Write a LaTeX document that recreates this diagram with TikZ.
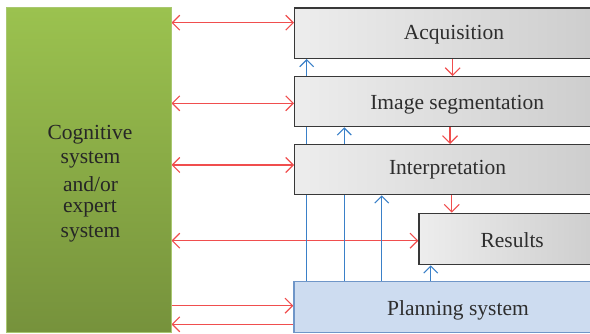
\documentclass[tikz,border=0pt]{standalone}
\usepackage{fontspec}
\setmainfont{Liberation Serif}
\newfontfamily\diagfont{Liberation Serif}
\usetikzlibrary{arrows.meta}
\definecolor{ared}{HTML}{F04E4E}
\definecolor{ablue}{HTML}{3A80C8}
\definecolor{pblue}{HTML}{CDDCF0}
\definecolor{pborder}{HTML}{6F96C8}
\definecolor{gtop}{HTML}{9BC24F}
\definecolor{gbot}{HTML}{76923C}
\definecolor{gborder}{HTML}{A9C870}
\pgfdeclarehorizontalshading{grayshade}{100bp}{color(0bp)=(black!9); color(9bp)=(black!3); color(100bp)=(black!26)}
\pgfdeclarehorizontalshading{planshade}{100bp}{color(0bp)=(white); color(26bp)=(pblue); color(100bp)=(pblue)}
\pgfdeclarelayer{bg}
\pgfsetlayers{bg,main}
\tikzset{
  stagebox/.style={draw=black!78, line width=1.3pt, shading=grayshade, inner sep=0pt,
    anchor=north west},
  planbox/.style={stagebox, draw=pborder, shading=planshade},
  boxtext/.style={anchor=base, inner sep=0pt, font=\diagfont\fontsize{21.5}{24}\selectfont, text=black!82},
  cogtext/.style={boxtext, text=black!85},
  redarr/.style={draw=ared, line width=1.1pt, >={Straight Barb[length=7.5pt,width=15pt]}},
  bluearr/.style={draw=ablue, line width=1.1pt, >={Straight Barb[length=7pt,width=14pt]}},
}
\begin{document}
\begin{tikzpicture}[x=1pt,y=-1pt]
\useasboundingbox (0,0) rectangle (590,334);
\clip (0,0) rectangle (590,334);
% green box
\node[draw=gborder, line width=0.8pt, top color=gtop, bottom color=gbot,
  minimum width=164.7pt, minimum height=324.4pt, inner sep=0pt, anchor=north west] (cog) at (6,7.3) {};
\node[cogtext] (cog1) at (90,139.3) {Cognitive};
\node[cogtext] (cog2) at (90.5,164) {system};
\node[cogtext] (cog3) at (90.5,191.7) {and/or};
\node[cogtext] (cog4) at (90,212.7) {expert};
\node[cogtext] (cog5) at (90.5,237.3) {system};
% stage boxes
\node[stagebox, minimum width=306pt, minimum height=50.2pt] (acq) at (294,7.5) {};
\node[stagebox, minimum width=306pt, minimum height=50pt] (seg) at (294,76) {};
\node[stagebox, minimum width=306pt, minimum height=50pt] (int) at (294,144) {};
\node[stagebox, minimum width=182pt, minimum height=51.3pt] (res) at (418.3,212.7) {};
\node[planbox, minimum width=307pt, minimum height=51pt] (plan) at (293.3,281) {};
\node[boxtext] (acqt) at (454,40) {Acquisition};
\node[boxtext] (segt) at (457.2,110) {Image segmentation};
\node[boxtext] (intt) at (447.5,175) {Interpretation};
\node[boxtext] (rest) at (512.2,247.3) {Results};
\node[boxtext] (plant) at (458,315.7) {Planning system};
% helper coordinates
\coordinate (ya) at (0,22.7);
\coordinate (yb) at (0,103.3);
\coordinate (yc) at (0,165);
\coordinate (yd) at (0,240.7);
\coordinate (ye) at (0,305.7);
\coordinate (yf) at (0,324.3);
\coordinate (xa) at (306.7,0);
\coordinate (xb) at (344.3,0);
\coordinate (xc) at (381.7,0);
\coordinate (xd) at (430.7,0);
\coordinate (ra) at (452.7,0);
\coordinate (rb) at (450,0);
\coordinate (rc) at (451.7,0);
\begin{pgfonlayer}{bg}
% red horizontal arrows
\draw[redarr,<->] (cog.east |- ya) -- (acq.west |- ya);
\draw[redarr,<->] (cog.east |- yb) -- (seg.west |- yb);
\draw[redarr,<->] (cog.east |- yc) -- (int.west |- yc);
\draw[redarr,<->] (cog.east |- yd) -- (res.west |- yd);
\draw[redarr,->] (cog.east |- ye) -- (plan.west |- ye);
\draw[redarr,->] (plan.west |- yf) -- (cog.east |- yf);
% red down arrows
\draw[redarr,->] (acq.south -| ra) -- (seg.north -| ra);
\draw[redarr,->] (seg.south -| rb) -- (int.north -| rb);
\draw[redarr,->] (int.south -| rc) -- (res.north -| rc);
% blue up arrows
\draw[bluearr,->] (plan.north -| xa) -- (acq.south -| xa);
\draw[bluearr,->] (plan.north -| xb) -- (seg.south -| xb);
\draw[bluearr,->] (plan.north -| xc) -- (int.south -| xc);
\draw[bluearr,->] (plan.north -| xd) -- (res.south -| xd);
\end{pgfonlayer}
\end{tikzpicture}
\end{document}
